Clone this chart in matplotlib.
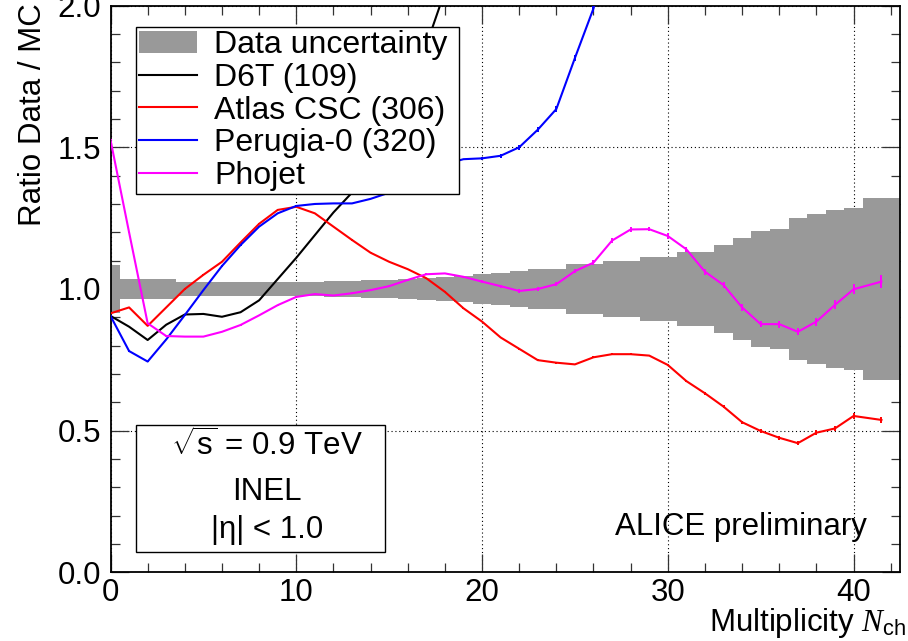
import numpy as np
import matplotlib
matplotlib.use("Agg")
import matplotlib.pyplot as plt
from matplotlib.patches import Patch, Rectangle
from matplotlib.lines import Line2D
from matplotlib.ticker import MultipleLocator, FormatStrFormatter

plt.rcParams['font.family'] = ['Liberation Sans', 'DejaVu Sans']
plt.rcParams['mathtext.fontset'] = 'custom'
plt.rcParams['mathtext.rm'] = 'Liberation Sans'
plt.rcParams['mathtext.it'] = 'Liberation Serif:italic'
plt.rcParams['mathtext.sf'] = 'Liberation Sans'

# Multiplicity bins (last bin is 2 units wide: 40.5-42.5)
n_ch = [0, 1, 2, 3, 4, 5, 6, 7, 8, 9, 10, 11, 12, 13, 14, 15, 16, 17, 18, 19, 20,
        21, 22, 23, 24, 25, 26, 27, 28, 29, 30, 31, 32, 33, 34, 35, 36, 37, 38, 39, 40, 41.5]

# Relative data uncertainty (half width around 1) per bin
data_unc = [0.085, 0.035, 0.035, 0.035, 0.023, 0.023, 0.023, 0.023, 0.023, 0.023,
            0.024, 0.025, 0.027, 0.029, 0.031, 0.033, 0.035, 0.038, 0.041, 0.046,
            0.052, 0.058, 0.064, 0.072, 0.072, 0.087, 0.087, 0.100, 0.100, 0.113,
            0.113, 0.129, 0.129, 0.155, 0.179, 0.203, 0.212, 0.250, 0.264, 0.277,
            0.287, 0.322]

# Ratio data / MC for each generator tune
d6t = [0.905, 0.867, 0.820, 0.874, 0.910, 0.912, 0.902, 0.918, 0.960, 1.035,
       1.110, 1.190, 1.270, 1.340, 1.440, 1.560, 1.690, 1.860, 2.050]

atlas_csc = [0.914, 0.935, 0.870, 0.935, 1.000, 1.050, 1.096, 1.164, 1.230, 1.279,
             1.290, 1.267, 1.220, 1.173, 1.128, 1.096, 1.070, 1.038, 0.990, 0.932,
             0.885, 0.829, 0.789, 0.749, 0.740, 0.734, 0.759, 0.770, 0.770, 0.765,
             0.732, 0.675, 0.632, 0.585, 0.530, 0.499, 0.475, 0.456, 0.493, 0.508,
             0.552, 0.538]
atlas_err = [0.002] * 20 + [0.003] * 10 + [0.004, 0.004, 0.005, 0.005, 0.006, 0.006,
                                           0.007, 0.007, 0.008, 0.008, 0.009, 0.010]

perugia0 = [0.905, 0.781, 0.744, 0.822, 0.908, 0.996, 1.081, 1.155, 1.220, 1.267,
            1.293, 1.300, 1.302, 1.302, 1.318, 1.340, 1.380, 1.415, 1.440, 1.458,
            1.461, 1.470, 1.500, 1.562, 1.635, 1.815, 1.990, 2.250]
perugia0_err = [0.002] * 20 + [0.006, 0.007, 0.008, 0.009, 0.010, 0.012, 0.014, 0.016]

phojet = [1.526, 1.200, 0.879, 0.834, 0.832, 0.832, 0.849, 0.873, 0.907, 0.943,
          0.972, 0.982, 0.977, 0.985, 0.996, 1.010, 1.032, 1.052, 1.055, 1.043,
          1.026, 1.010, 0.993, 1.000, 1.017, 1.063, 1.093, 1.171, 1.210, 1.211,
          1.187, 1.140, 1.061, 1.014, 0.935, 0.876, 0.876, 0.849, 0.885, 0.944,
          0.999, 1.026]
phojet_err = [0.002] * 10 + [0.003] * 10 + [0.005, 0.005, 0.006, 0.006, 0.007, 0.007,
                                            0.008, 0.008, 0.008, 0.008, 0.009, 0.009,
                                            0.010, 0.010, 0.011, 0.011, 0.012, 0.012,
                                            0.014, 0.016, 0.018, 0.022]

legend_labels = ["Data uncertainty", "D6T (109)", "Atlas CSC (306)",
                 "Perugia-0 (320)", "Phojet"]

FS = 22.5
BAND = "#999999"

fig = plt.figure(figsize=(9.08, 6.41), dpi=100)
ax = fig.add_axes([0.1217, 0.1070, 0.8695, 0.8843])
ax.set_xlim(0, 42.5)
ax.set_ylim(0, 2.0)

# data uncertainty band as a filled step histogram around unity
n = np.asarray(n_ch, dtype=float)
unc = np.asarray(data_unc)
edges = np.append(n[:-1] - 0.5, [40.5, 42.5])
ax.stairs(1 + unc, edges, baseline=1 - unc, fill=True, color=BAND, lw=0, zorder=1)

series = [
    (d6t, None, "black"),
    (atlas_csc, atlas_err, "red"),
    (perugia0, perugia0_err, "blue"),
    (phojet, phojet_err, "magenta"),
]
for vals, errs, col in series:
    x = n[:len(vals)]
    ax.plot(x, vals, color=col, lw=1.5, zorder=3, solid_joinstyle='round')
    if errs is not None:
        ax.errorbar(x, vals, yerr=errs, fmt='none', ecolor=col, elinewidth=1.4,
                    capsize=0, zorder=3)

# axes styling
ax.grid(True, which='major', color='black', linestyle=(0, (1, 2.5)), lw=0.8)
ax.set_axisbelow(True)
ax.xaxis.set_major_locator(MultipleLocator(10))
ax.xaxis.set_minor_locator(MultipleLocator(2))
ax.yaxis.set_major_locator(MultipleLocator(0.5))
ax.yaxis.set_minor_locator(MultipleLocator(0.1))
ax.yaxis.set_major_formatter(FormatStrFormatter('%.1f'))
ax.tick_params(which='both', direction='in', top=True, right=True, width=0.9,
               color='#333333')
ax.tick_params(which='major', length=13)
ax.tick_params(which='minor', length=6.5)
ax.tick_params(axis='x', labelsize=FS, pad=4)
ax.tick_params(axis='y', labelsize=FS, pad=7)
for sp in ax.spines.values():
    sp.set_linewidth(1.3)

fig.text(33 / 908, 1 - 3 / 641, "Ratio Data / MC", rotation=90, ha='center',
         va='top', fontsize=FS)
fig.text(906 / 908, 1 - 631 / 641, r"Multiplicity $\mathit{N}_{\mathrm{ch}}$",
         ha='right', va='baseline', fontsize=FS)

# legend, stretched horizontally to its box
handles = [Patch(facecolor=BAND, edgecolor='none')] + [
    Line2D([], [], color=c, lw=1.5) for c in ["black", "red", "blue", "magenta"]]
leg = ax.legend(handles, legend_labels, loc='upper left',
                bbox_to_anchor=(0.0323, 0.67, 0.4095, 0.2917), mode='expand',
                fontsize=23, fancybox=False,
                framealpha=1, edgecolor='black', borderpad=0.1, labelspacing=0.08,
                handlelength=1.8, handleheight=0.7, handletextpad=0.55,
                borderaxespad=0)
leg.get_frame().set_linewidth(1.0)

# collision info box
ax.add_patch(Rectangle((0.0319, 0.0365), 0.3158, 0.2235, transform=ax.transAxes,
                       facecolor='white', edgecolor='black', lw=1.0, zorder=4))
info = [r"$\sqrt{\mathrm{s}}$ = 0.9 TeV", "INEL", "|η| < 1.0"]
for txt, yy in zip(info, [0.2218, 0.1426, 0.0748]):
    ax.text(0.198, yy, txt, transform=ax.transAxes, ha='center', va='center',
            fontsize=FS, zorder=5)

ax.text(0.9578, 0.066, "ALICE preliminary", transform=ax.transAxes, ha='right',
        va='baseline', fontsize=FS, zorder=5)

fig.savefig("out.png", dpi=100)
